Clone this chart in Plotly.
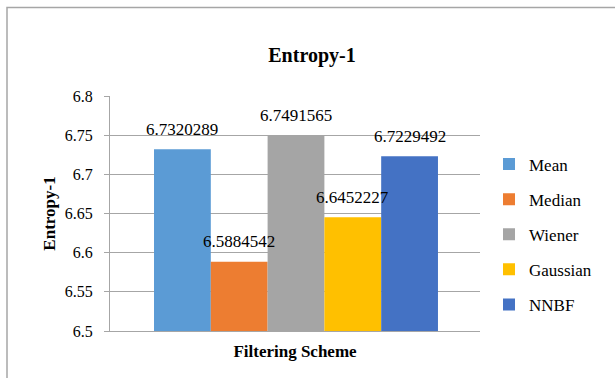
import plotly.graph_objects as go

series = ["Mean", "Median", "Wiener", "Gaussian", "NNBF"]
values = [6.7320289, 6.5884542, 6.7491565, 6.6452227, 6.7229492]
labels = ["6.7320289", "6.5884542", "6.7491565", "6.6452227", "6.7229492"]
colors = ["#5B9BD5", "#ED7D31", "#A5A5A5", "#FFC000", "#4472C4"]
y_ticks = [6.5, 6.55, 6.6, 6.65, 6.7, 6.75, 6.8]
y_ticktext = ["6.5", "6.55", "6.6", "6.65", "6.7", "6.75", "6.8"]

FONT = "Times New Roman"

fig = go.Figure()
for i, (name, v, c) in enumerate(zip(series, values, colors)):
    fig.add_trace(go.Bar(
        x=[i], y=[v], name=name, width=1.0,
        marker=dict(color=c, line=dict(width=0)),
        legendgroup=name,
        hoverinfo="skip",
    ))
    fig.add_annotation(
        x=i, y=v, text=labels[i], showarrow=False, yshift=20,
        font=dict(family=FONT, size=17, color="#000"),
        xref="x", yref="y",
    )

# outer chart frame
fig.add_shape(type="rect", xref="paper", yref="paper",
              x0=(7 - 110) / 370, x1=(640 - 110) / 370,
              y0=(331 - 400) / 235, y1=(331 - 7.5) / 235,
              line=dict(color="#A6A6A6", width=1.5), layer="above")

fig.update_layout(
    width=615, height=378,
    margin=dict(l=110, r=135, t=96, b=47),
    paper_bgcolor="white", plot_bgcolor="white",
    barmode="overlay",
    font=dict(family=FONT, color="#000"),
    title=dict(text="<b>Entropy-1</b>", x=312 / 615, xref="container", xanchor="center",
               y=1 - 55 / 378, yref="container", yanchor="middle",
               font=dict(family=FONT, size=20, color="#000")),
    xaxis=dict(range=[-1.275, 5.24], showticklabels=False, ticks="", showgrid=False,
               zeroline=False, showline=True, linecolor="#A6A6A6", linewidth=1,
               title=dict(text="<b>Filtering Scheme</b>", standoff=14,
                          font=dict(family=FONT, size=17, color="#000"))),
    yaxis=dict(range=[6.5, 6.8], tickvals=y_ticks, ticktext=y_ticktext,
               showgrid=True, gridcolor="#A6A6A6", gridwidth=1,
               zeroline=False, showline=True, linecolor="#A6A6A6", linewidth=1,
               ticks="outside", ticklen=5, tickcolor="#A6A6A6",
               ticklabelstandoff=8,
               tickfont=dict(family=FONT, size=16, color="#000"),
               title=dict(text="<b>Entropy-1</b>", standoff=4,
                          font=dict(family=FONT, size=17, color="#000"))),
    legend=dict(x=(489 - 110) / 370, xanchor="left", y=(331 - 234.5) / 235, yanchor="middle",
                font=dict(family=FONT, size=17, color="#000"),
                tracegroupgap=10, itemsizing="constant", bgcolor="rgba(0,0,0,0)"),
    showlegend=True,
)

fig.write_html("out.html")
